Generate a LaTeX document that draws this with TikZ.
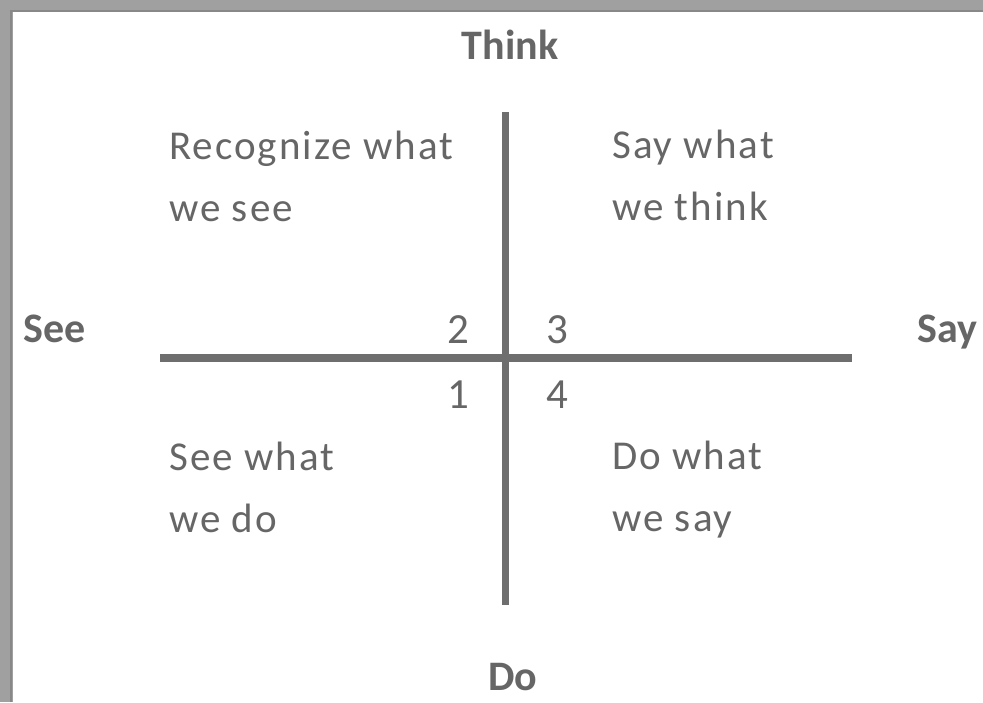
\documentclass[tikz,border=0pt]{standalone}
\usepackage{fontspec}
\setmainfont{Carlito}
\newfontfamily\spacedfont[LetterSpace=5]{Carlito}
\definecolor{axisgray}{HTML}{6E6E6E}
\definecolor{textgray}{HTML}{666666}
\definecolor{framegray}{HTML}{A0A0A0}
\definecolor{framedark}{HTML}{888888}
\begin{document}
\begin{tikzpicture}[x=1pt,y=-1pt,
  axis/.style={draw=axisgray,line width=7.5pt},
  pole/.style={text=textgray,font=\fontsize{42}{50}\selectfont\bfseries,inner sep=0pt},
  quad/.style={text=textgray,font=\fontsize{41}{62}\selectfont\spacedfont,align=left,inner sep=0pt},
  num/.style={text=textgray,font=\fontsize{43}{50}\selectfont,inner sep=0pt}]
\useasboundingbox (0,0) rectangle (983,702);
\fill[white] (0,0) rectangle (983,702);

% frame
\fill[framegray] (0,0) rectangle (983,12);
\fill[framegray] (0,0) rectangle (13,702);
\draw[framedark,line width=2pt] (11,702) -- (11,11) -- (983,11);

% axes
\coordinate (v1) at (505.5,112);
\coordinate (v2) at (505.5,605);
\coordinate (v3) at (160,358);
\coordinate (v4) at (852,358);
\draw[axis] (v1) -- (v2);
\draw[axis] (v3) -- (v4);

% poles
\node[pole,anchor=base] (think) at (510,59) {Think};
\node[pole,anchor=base] (do) at (513,690) {Do};
\node[pole,anchor=base west] (see) at (23,342) {See};
\node[pole,anchor=base west] (say) at (917,342) {Say};

% quadrants (base = last line)
\node[quad,anchor=base west] (q2) at (169,221) {Recognize what\\we see};
\node[quad,anchor=base west] (q3) at (612,220) {Say what\\we think};
\node[quad,anchor=base west] (q1) at (169,532) {See what\\we do};
\node[quad,anchor=base west] (q4) at (612,531) {Do what\\we say};

% numbers
\node[num,anchor=base] (n2) at (458,343) {2};
\node[num,anchor=base] (n3) at (557,343) {3};
\node[num,anchor=base] (n1) at (458,408) {1};
\node[num,anchor=base] (n4) at (557,408) {4};
\end{tikzpicture}
\end{document}
